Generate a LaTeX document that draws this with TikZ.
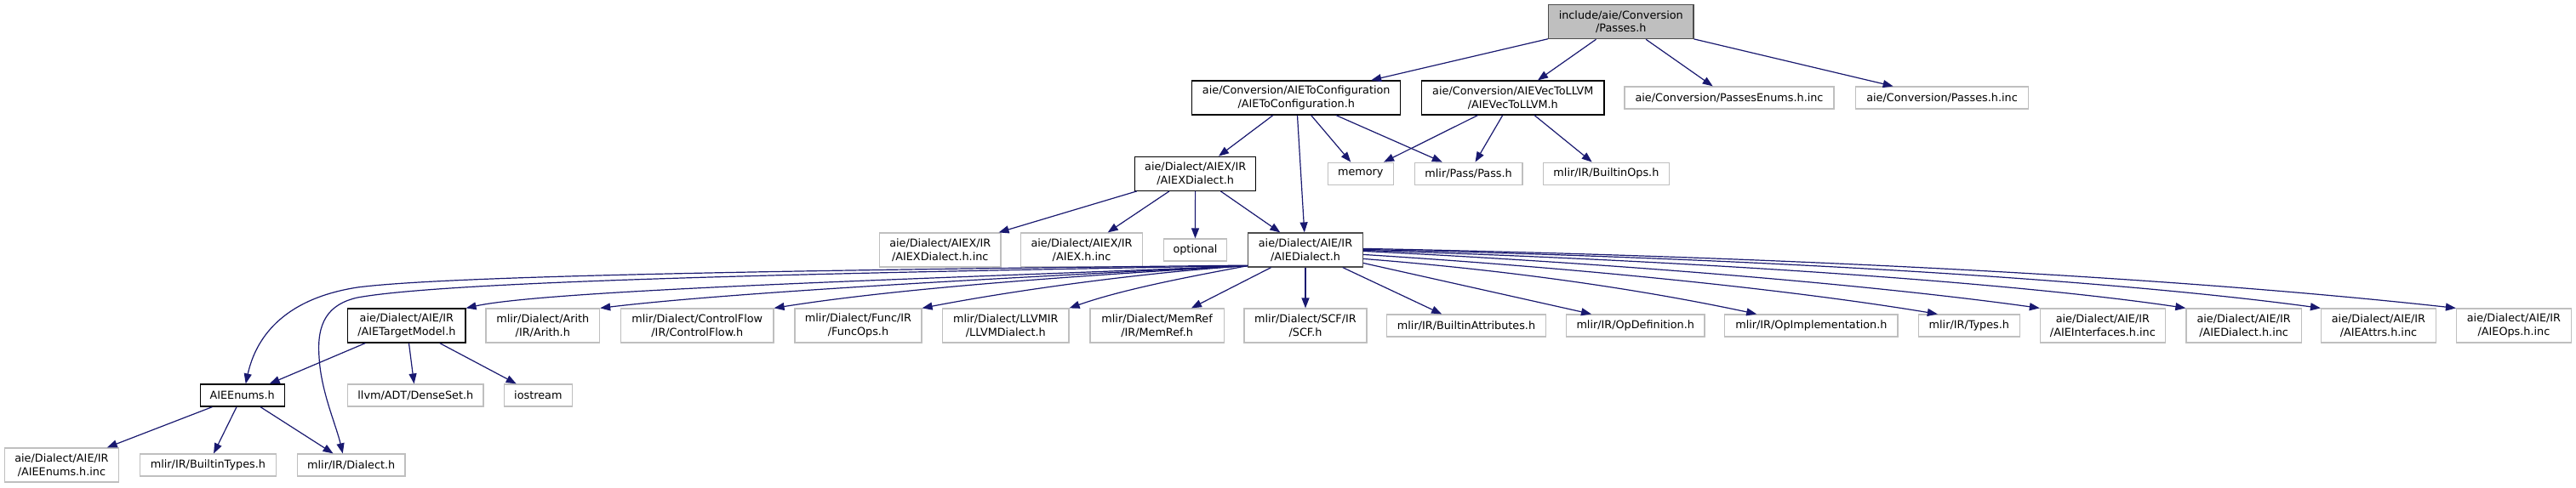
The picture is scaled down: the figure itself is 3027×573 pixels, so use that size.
\documentclass[tikz,border=0pt]{standalone}
\usepackage{fontspec}
\setmainfont{DejaVu Sans}
\usetikzlibrary{arrows.meta,calc}
\definecolor{mblue}{HTML}{191970}
\definecolor{greyb}{HTML}{BFBFBF}
\definecolor{greyd}{HTML}{4D4D4D}
\tikzset{
  basebox/.style={rectangle, inner sep=0pt, align=center, line width=1.2pt,
    font=\fontsize{12.8}{15.7}\selectfont},
  docbox/.style={basebox, draw=black, fill=white},
  docgrey/.style={basebox, draw=greyd, fill=white},
  extbox/.style={basebox, draw=greyb, fill=white},
  rootbox/.style={basebox, draw=greyd, fill=greyb},
  edge/.style={draw=mblue, line width=1.2pt, -{Triangle[length=12pt,width=9pt]}},
}
\begin{document}
\begin{tikzpicture}[x=1pt,y=-1pt]
\fill[white] (0,0) rectangle (3027,573);
\useasboundingbox (0,0) rectangle (3027,573);
% row 1
\node[rootbox, minimum width=170.5pt, minimum height=40pt] (passes) at (1904.75,25.7) {include/aie/Conversion\\/Passes.h};
% row 2
\node[docbox, minimum width=245pt, minimum height=40pt] (toconf) at (1523.25,115) {aie/Conversion/AIEToConfiguration\\/AIEToConfiguration.h};
\node[docbox, minimum width=214.3pt, minimum height=40pt] (vec) at (1777.75,115) {aie/Conversion/AIEVecToLLVM\\/AIEVecToLLVM.h};
\node[extbox, minimum width=246pt, minimum height=26pt] (penums) at (2032,115) {aie/Conversion/PassesEnums.h.inc};
\node[extbox, minimum width=202.6pt, minimum height=26pt] (pinc) at (2282,115) {aie/Conversion/Passes.h.inc};
% row 3
\node[docbox, minimum width=142.1pt, minimum height=40pt] (aiexd) at (1404.65,204.3) {aie/Dialect/AIEX/IR\\/AIEXDialect.h};
\node[extbox, minimum width=77pt, minimum height=26pt] (memory) at (1598.8,204.2) {memory};
\node[extbox, minimum width=126.8pt, minimum height=26pt] (pass) at (1725.6,204.2) {mlir/Pass/Pass.h};
\node[extbox, minimum width=148pt, minimum height=26pt] (bops) at (1887.4,204.2) {mlir/IR/BuiltinOps.h};
% row 4
\node[extbox, minimum width=142.3pt, minimum height=40pt] (aiexinc) at (1104.75,294) {aie/Dialect/AIEX/IR\\/AIEXDialect.h.inc};
\node[extbox, minimum width=142.3pt, minimum height=40pt] (aiexhinc) at (1271,294) {aie/Dialect/AIEX/IR\\/AIEX.h.inc};
\node[extbox, minimum width=74.5pt, minimum height=26pt] (optional) at (1404.45,294) {optional};
\node[docgrey, minimum width=134.5pt, minimum height=40pt] (aied) at (1534,294) {aie/Dialect/AIE/IR\\/AIEDialect.h};
% row 5
\node[docbox, minimum width=138.3pt, minimum height=40pt] (tm) at (477.85,383) {aie/Dialect/AIE/IR\\/AIETargetModel.h};
\node[extbox, minimum width=133.6pt, minimum height=40pt] (arith) at (637.8,383) {mlir/Dialect/Arith\\/IR/Arith.h};
\node[extbox, minimum width=179.4pt, minimum height=40pt] (cf) at (819.3,383) {mlir/Dialect/ControlFlow\\/IR/ControlFlow.h};
\node[extbox, minimum width=149pt, minimum height=40pt] (func) at (1008.5,383) {mlir/Dialect/Func/IR\\/FuncOps.h};
\node[extbox, minimum width=148.4pt, minimum height=40pt] (llvm) at (1181.8,383) {mlir/Dialect/LLVMIR\\/LLVMDialect.h};
\node[extbox, minimum width=157.2pt, minimum height=40pt] (memref) at (1359.6,383) {mlir/Dialect/MemRef\\/IR/MemRef.h};
\node[extbox, minimum width=143.9pt, minimum height=40pt] (scf) at (1534,383) {mlir/Dialect/SCF/IR\\/SCF.h};
\node[extbox, minimum width=187.2pt, minimum height=26pt] (battr) at (1723,383) {mlir/IR/BuiltinAttributes.h};
\node[extbox, minimum width=162.3pt, minimum height=26pt] (opdef) at (1921.75,383) {mlir/IR/OpDefinition.h};
\node[extbox, minimum width=203.1pt, minimum height=26pt] (opimpl) at (2128.35,383) {mlir/IR/OpImplementation.h};
\node[extbox, minimum width=118.9pt, minimum height=26pt] (types) at (2313.85,383) {mlir/IR/Types.h};
\node[extbox, minimum width=146.9pt, minimum height=40pt] (ifinc) at (2470.85,383) {aie/Dialect/AIE/IR\\/AIEInterfaces.h.inc};
\node[extbox, minimum width=135.4pt, minimum height=40pt] (dinc) at (2636.6,383) {aie/Dialect/AIE/IR\\/AIEDialect.h.inc};
\node[extbox, minimum width=134.9pt, minimum height=40pt] (ainc) at (2794.95,383) {aie/Dialect/AIE/IR\\/AIEAttrs.h.inc};
\node[extbox, minimum width=134.9pt, minimum height=40pt] (oinc) at (2953.95,383) {aie/Dialect/AIE/IR\\/AIEOps.h.inc};
% row 6
\node[docbox, minimum width=99pt, minimum height=26pt] (enums) at (284.7,465) {AIEEnums.h};
\node[extbox, minimum width=159.2pt, minimum height=26pt] (dense) at (488.3,465) {llvm/ADT/DenseSet.h};
\node[extbox, minimum width=80.1pt, minimum height=26pt] (iostream) at (632.35,465) {iostream};
% row 7
\node[extbox, minimum width=133.7pt, minimum height=40pt] (einc) at (72.45,547) {aie/Dialect/AIE/IR\\/AIEEnums.h.inc};
\node[extbox, minimum width=160.2pt, minimum height=26pt] (btypes) at (244.4,547) {mlir/IR/BuiltinTypes.h};
\node[extbox, minimum width=126.5pt, minimum height=26pt] (dialect) at (412.75,547) {mlir/IR/Dialect.h};

% edges from root
\draw[edge] (passes) -- (toconf);
\draw[edge] (passes) -- (vec);
\draw[edge] (passes) -- (penums);
\draw[edge] (passes) -- (pinc);
% from AIEToConfiguration
\draw[edge] (toconf) -- (aiexd);
\draw[edge] (toconf) -- (aied);
\draw[edge] (toconf) -- (memory);
\draw[edge] (toconf) -- (pass);
% from AIEVecToLLVM
\draw[edge] (vec) -- (memory);
\draw[edge] (vec) -- (pass);
\draw[edge] (vec) -- (bops);
% from AIEXDialect
\draw[edge] (aiexd) -- (aiexinc);
\draw[edge] (aiexd) -- (aiexhinc);
\draw[edge] (aiexd) -- (optional);
\draw[edge] (aiexd) -- (aied);
% from AIEDialect, left side
\draw[edge] ($(aied.south west)+(0,-2.5)$) .. controls (900,318) and (520,325) .. (420,338)
  .. controls (330,352) and (300,400) .. ($(enums.north)+(4,0)$);
\draw[edge] ($(aied.south west)+(0,-2)$) .. controls (900,322) and (520,332) .. (420,350)
  .. controls (385,358) and (372,380) .. (375,420)
  .. controls (377,460) and (395,500) .. ($(dialect.north)+(-10,0)$);
\draw[edge] ($(aied.south west)+(0,-2)$) .. controls (1150,326) and (650,340) .. (tm.north east);
\draw[edge] ($(aied.south west)+(0,-2)$) .. controls (1150,328) and (850,345) .. (arith.north east);
\draw[edge] ($(aied.south west)+(0,-2)$) .. controls (1250,325) and (1050,340) .. (cf.north east);
\draw[edge] ($(aied.south west)+(0,-2)$) .. controls (1350,320) and (1200,340) .. (func.north east);
\draw[edge] ($(aied.south west)+(0,-2)$) .. controls (1400,325) and (1320,340) .. (llvm.north east);
\draw[edge] (aied) -- (memref);
\draw[edge] (aied) -- (scf);
\draw[edge] (aied) -- (battr);
% from AIEDialect, right side
\draw[edge] ($(aied.north east)+(0,36)$) -- ($(opdef.north west)+(30,0)$);
\draw[edge] ($(aied.north east)+(0,31)$) .. controls (1800,320) and (1950,345) .. ($(opimpl.north west)+(38,0)$);
\draw[edge] ($(aied.north east)+(0,26)$) .. controls (1850,315) and (2100,340) .. ($(types.north west)+(23,0)$);
\draw[edge] ($(aied.north east)+(0,22)$) .. controls (1900,310) and (2200,335) .. (ifinc.north west);
\draw[edge] ($(aied.north east)+(0,21)$) .. controls (1950,305) and (2350,330) .. (dinc.north west);
\draw[edge] ($(aied.north east)+(0,20)$) .. controls (2000,302) and (2450,325) .. (ainc.north west);
\draw[edge] ($(aied.north east)+(0,19)$) .. controls (2000,300) and (2500,320) .. (oinc.north west);
% from AIETargetModel
\draw[edge] (tm) -- (enums);
\draw[edge] (tm) -- (dense);
\draw[edge] (tm) -- (iostream);
% from AIEEnums
\draw[edge] (enums) -- (einc);
\draw[edge] (enums) -- (btypes);
\draw[edge] (enums) -- (dialect);
\end{tikzpicture}
\end{document}
